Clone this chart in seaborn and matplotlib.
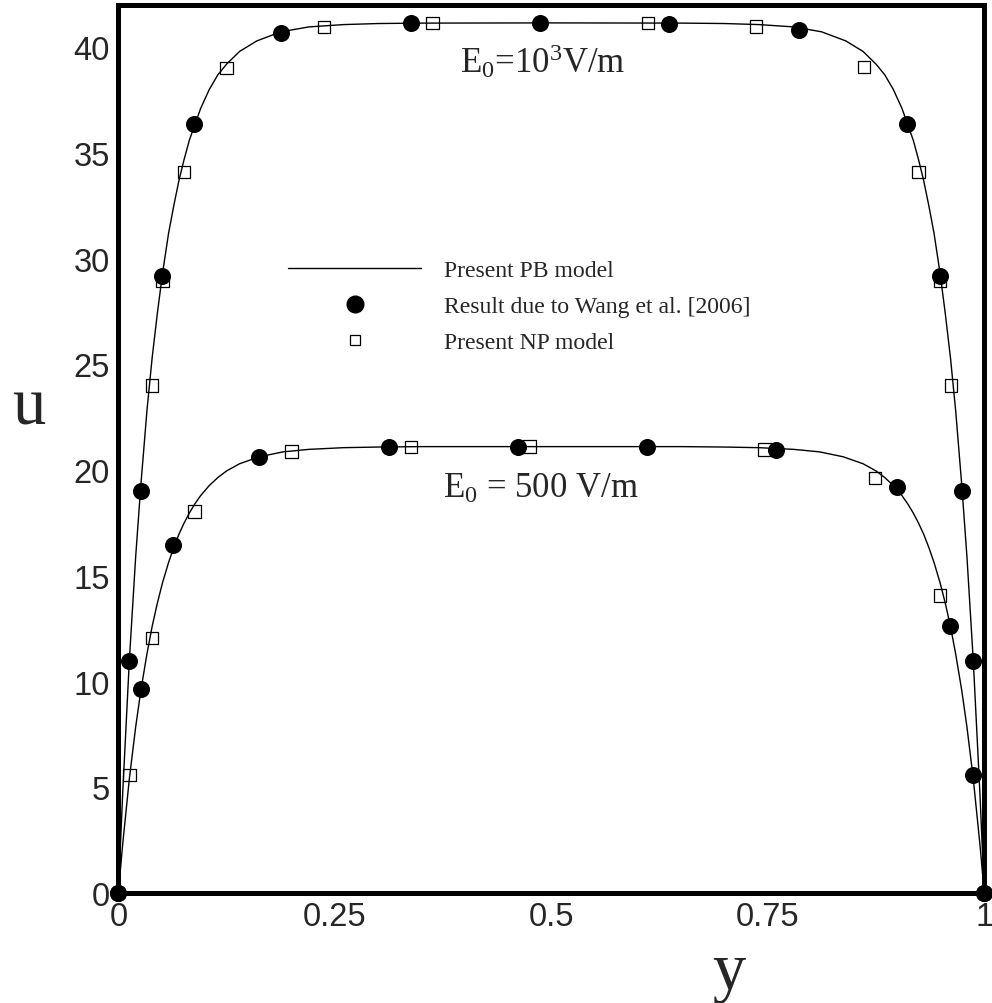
import numpy as np
import matplotlib
matplotlib.use("Agg")
import matplotlib.pyplot as plt
from matplotlib.lines import Line2D
from matplotlib.ticker import MultipleLocator, FixedLocator
import seaborn as sns

# PB model curves
pb_hi_y = [0, 0.005, 0.0127, 0.02, 0.026, 0.033, 0.039, 0.045, 0.051, 0.058, 0.064, 0.07,
           0.076, 0.082, 0.088, 0.095, 0.105, 0.115, 0.125, 0.14, 0.16, 0.188, 0.22, 0.26,
           0.30, 0.35, 0.5, 0.65, 0.70, 0.74, 0.78, 0.812, 0.84, 0.86, 0.875, 0.885, 0.895,
           0.905, 0.912, 0.918, 0.924, 0.93, 0.936, 0.942, 0.949, 0.955, 0.961, 0.967, 0.974,
           0.98, 0.9873, 0.995, 1.0]
pb_hi_u = [0, 4.7, 11.0, 15.9, 19.3, 22.8, 25.3, 27.4, 29.3, 31.2, 32.5, 33.7,
           34.7, 35.6, 36.3, 37.1, 38.0, 38.7, 39.2, 39.8, 40.3, 40.73, 40.96, 41.07,
           41.12, 41.14, 41.15, 41.14, 41.12, 41.07, 40.96, 40.73, 40.3, 39.8, 39.2, 38.7, 38.0,
           37.1, 36.3, 35.6, 34.7, 33.7, 32.5, 31.2, 29.3, 27.4, 25.3, 22.8, 19.3,
           15.9, 11.0, 4.7, 0]
pb_lo_y = [0, 0.005, 0.0127, 0.02, 0.026, 0.033, 0.039, 0.045, 0.051, 0.058, 0.064, 0.07,
           0.076, 0.082, 0.088, 0.095, 0.105, 0.115, 0.125, 0.14, 0.163, 0.19, 0.22, 0.26,
           0.30, 0.35, 0.5, 0.65, 0.70, 0.74, 0.78, 0.81, 0.837, 0.86, 0.875, 0.885, 0.895,
           0.905, 0.912, 0.918, 0.924, 0.93, 0.936, 0.942, 0.949, 0.955, 0.961, 0.967, 0.974,
           0.98, 0.9873, 0.995, 1.0]
pb_lo_u = [0, 2.3, 5.4, 7.85, 9.58, 11.3, 12.6, 13.7, 14.67, 15.63, 16.34, 16.97,
           17.5, 17.97, 18.38, 18.79, 19.27, 19.65, 19.96, 20.3, 20.63, 20.86, 20.98, 21.06,
           21.09, 21.11, 21.11, 21.11, 21.09, 21.06, 20.98, 20.86, 20.63, 20.3, 19.96, 19.65, 19.27,
           18.79, 18.38, 17.97, 17.5, 16.97, 16.34, 15.63, 14.67, 13.7, 12.6, 11.3, 9.58,
           7.85, 5.4, 2.3, 0]

# Wang et al. [2006]
wang_hi_y = [0, 0.0127, 0.0259, 0.0508, 0.0878, 0.188, 0.338, 0.487, 0.636, 0.786,
             0.911, 0.949, 0.974, 0.987, 1.0]
wang_hi_u = [0, 10.99, 19.03, 29.19, 36.36, 40.67, 41.14, 41.14, 41.1, 40.82,
             36.36, 29.19, 19.03, 10.99, 0]
wang_lo_y = [0, 0.0259, 0.0628, 0.163, 0.313, 0.462, 0.610, 0.759, 0.899, 0.961, 0.987, 1.0]
wang_lo_u = [0, 9.65, 16.46, 20.61, 21.08, 21.11, 21.11, 20.97, 19.19, 12.64, 5.58, 0]

# Present NP model
np_hi_y = [0.0386, 0.0508, 0.0759, 0.125, 0.2376, 0.3626, 0.612, 0.7365, 0.861, 0.924, 0.949, 0.9613]
np_hi_u = [24.0, 28.97, 34.09, 39.03, 40.95, 41.14, 41.14, 40.98, 39.06, 34.09, 28.97, 24.0]
np_lo_y = [0.0127, 0.0386, 0.0878, 0.200, 0.338, 0.475, 0.746, 0.874, 0.949]
np_lo_u = [5.58, 12.05, 18.04, 20.87, 21.08, 21.11, 20.97, 19.62, 14.06]

x_ticks = [0, 0.25, 0.5, 0.75, 1]
x_labels = ["0", "0.25", "0.5", "0.75", "1"]

sns.set_style("white")
plt.rcParams['font.family'] = ['Liberation Sans', 'DejaVu Sans']
plt.rcParams['mathtext.fontset'] = 'custom'
plt.rcParams['mathtext.rm'] = 'Liberation Serif'
plt.rcParams['mathtext.it'] = 'Liberation Serif:italic'

fig = plt.figure(figsize=(9.92, 10.04), dpi=100)
ax = fig.add_axes([0.1193, 0.1096, 0.8729, 0.8845])

for xs, ys in [(pb_hi_y, pb_hi_u), (pb_lo_y, pb_lo_u)]:
    sns.lineplot(x=xs, y=ys, ax=ax, color='black', lw=1.0, sort=False, estimator=None)

sq = dict(marker='s', s=80, facecolor='none', edgecolor='black', linewidth=0.9, clip_on=False, zorder=3)
sns.scatterplot(x=np_hi_y, y=np_hi_u, ax=ax, **sq)
sns.scatterplot(x=np_lo_y, y=np_lo_u, ax=ax, **sq)
ci = dict(marker='o', s=150, color='black', edgecolor='black', linewidth=0, clip_on=False, zorder=4)
sns.scatterplot(x=wang_hi_y, y=wang_hi_u, ax=ax, **ci)
sns.scatterplot(x=wang_lo_y, y=wang_lo_u, ax=ax, **ci)

ax.set_xlim(0, 1)
ax.set_ylim(0, 42)
ax.xaxis.set_major_locator(FixedLocator(x_ticks))
ax.set_xticklabels(x_labels)
ax.xaxis.set_minor_locator(MultipleLocator(0.05))
ax.yaxis.set_major_locator(MultipleLocator(5))
ax.yaxis.set_minor_locator(MultipleLocator(1))
ax.tick_params(which='major', direction='in', length=10, width=2.8, labelsize=23.5, pad=6,
               top=False, right=False, color='black')
ax.tick_params(which='minor', direction='in', length=6.5, width=0.8, top=False, right=False)
for s in ax.spines.values():
    s.set_linewidth(3.6)
    s.set_color('black')

serif = {'family': ['Liberation Serif', 'DejaVu Serif']}
ax.set_ylabel('u', fontdict=serif, fontsize=48, rotation=0)
ax.yaxis.set_label_coords(-0.104, 0.547)
ax.yaxis.label.set_va('center')
ax.set_xlabel('y', fontdict=serif, fontsize=48)
ax.xaxis.set_label_coords(0.705, -0.09)
ax.xaxis.label.set_va('center')

ax.text(0.395, 0.925, r'E$_{\rm 0}$=10$^{\rm 3}$V/m', transform=ax.transAxes,
        fontsize=25, family=['Liberation Serif', 'DejaVu Serif'], ha='left', va='baseline')
ax.text(0.375, 0.446, r'E$_{\rm 0}$ = 500 V/m', transform=ax.transAxes,
        fontsize=25, family=['Liberation Serif', 'DejaVu Serif'], ha='left', va='baseline')

handles = [Line2D([], [], color='black', lw=1.0),
           Line2D([], [], marker='o', color='black', ls='none', ms=12),
           Line2D([], [], marker='s', mfc='none', mec='black', mew=0.9, ls='none', ms=6.5)]
labels = ['Present PB model', 'Result due to Wang et al. [2006]', 'Present NP model']
ax.legend(handles, labels, loc='upper left', bbox_to_anchor=(0.196, 0.713), frameon=False,
          handlelength=5.6, handletextpad=0.95, labelspacing=0.6, borderpad=0, borderaxespad=0,
          numpoints=1, prop={'family': 'Liberation Serif', 'size': 17.1})

fig.savefig('out.png', dpi=100)
